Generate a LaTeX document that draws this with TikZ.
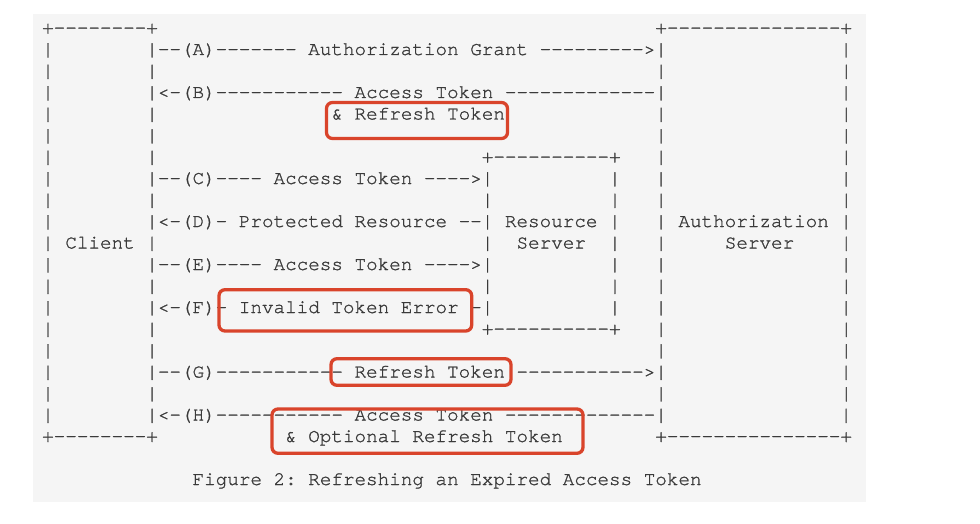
\documentclass[tikz,border=0pt]{standalone}
\usepackage{fontspec}
\setmonofont{texgyrecursor}[Extension=.otf, UprightFont=*-regular, BoldFont=*-bold, WordSpace={1,0,0}, UprightFeatures={FakeBold=1.2}]
\definecolor{bggray}{HTML}{F5F5F5}
\definecolor{txtgray}{HTML}{3A3A3A}
\definecolor{hlred}{RGB}{217,68,43}
\newlength\cw
\setlength\cw{11.57pt}
\newcommand\SP[1]{\kern#1\cw}
\tikzset{
  asc/.style={anchor=base west, inner sep=0pt, outer sep=0pt, text=txtgray,
    font=\ttfamily\fontsize{19.28}{21.5}\selectfont},
  hlbox/.style={draw=hlred, line width=3.3pt, rounded corners=6pt}
}
\begin{document}
\begin{tikzpicture}[x=1pt,y=-1pt]
\useasboundingbox (0,0) rectangle (980,524);
\fill[white] (0,0) rectangle (980,524);
\fill[bggray] (33,14.5) rectangle (866,502);
% rows: baseline y = 33.5 + 21.5 r ; col 2 left edge x = 42.2
\node[asc] (l0)  at (42.2,33.5)  {+--------+\SP{43}+---------------+};
\node[asc] (l1)  at (42.2,55)    {|\SP{8}|--(A)-------\SP{1}Authorization\SP{1}Grant\SP{1}--------->|\SP{15}|};
\node[asc] (l2)  at (42.2,76.5)  {|\SP{8}|\SP{43}|\SP{15}|};
\node[asc] (l3)  at (42.2,98)    {|\SP{8}|<-(B)-----------\SP{1}Access\SP{1}Token\SP{1}-------------|\SP{15}|};
\node[asc] (l4)  at (42.2,119.5) {|\SP{8}|\SP{15}\&\SP{1}Refresh\SP{1}Token\SP{13}|\SP{15}|};
\node[asc] (l5)  at (42.2,141)   {|\SP{8}|\SP{43}|\SP{15}|};
\node[asc] (l6)  at (42.2,162.5) {|\SP{8}|\SP{28}+----------+\SP{3}|\SP{15}|};
\node[asc] (l7)  at (42.2,184)   {|\SP{8}|--(C)----\SP{1}Access\SP{1}Token\SP{1}---->|\SP{10}|\SP{3}|\SP{15}|};
\node[asc] (l8)  at (42.2,205.5) {|\SP{8}|\SP{28}|\SP{10}|\SP{3}|\SP{15}|};
\node[asc] (l9)  at (42.2,227)   {|\SP{8}|<-(D)-\SP{1}Protected\SP{1}Resource\SP{1}--|\SP{1}Resource\SP{1}|\SP{3}|\SP{1}Authorization\SP{1}|};
\node[asc] (l10) at (42.2,248.5) {|\SP{1}Client\SP{1}|\SP{28}|\SP{2}Server\SP{2}|\SP{3}|\SP{5}Server\SP{4}|};
\node[asc] (l11) at (42.2,270)   {|\SP{8}|--(E)----\SP{1}Access\SP{1}Token\SP{1}---->|\SP{10}|\SP{3}|\SP{15}|};
\node[asc] (l12) at (42.2,291.5) {|\SP{8}|\SP{28}|\SP{10}|\SP{3}|\SP{15}|};
\node[asc] (l13) at (42.2,313)   {|\SP{8}|<-(F)-\SP{1}Invalid\SP{1}Token\SP{1}Error\SP{1}-|\SP{10}|\SP{3}|\SP{15}|};
\node[asc] (l14) at (42.2,334.5) {|\SP{8}|\SP{28}+----------+\SP{3}|\SP{15}|};
\node[asc] (l15) at (42.2,356)   {|\SP{8}|\SP{43}|\SP{15}|};
\node[asc] (l16) at (42.2,377.5) {|\SP{8}|--(G)-----------\SP{1}Refresh\SP{1}Token\SP{1}----------->|\SP{15}|};
\node[asc] (l17) at (42.2,399)   {|\SP{8}|\SP{43}|\SP{15}|};
\node[asc] (l18) at (42.2,420.5) {|\SP{8}|<-(H)-----------\SP{1}Access\SP{1}Token\SP{1}-------------|\SP{15}|};
\node[asc] (l19) at (42.2,442)   {+--------+\SP{11}\&\SP{1}Optional\SP{1}Refresh\SP{1}Token\SP{8}+---------------+};
\node[asc] (cap) at (192.6,485)  {Figure\SP{1}2:\SP{1}Refreshing\SP{1}an\SP{1}Expired\SP{1}Access\SP{1}Token};
% highlight boxes
\draw[hlbox] (326.5,102.5) rectangle (507.5,138.5);
\draw[hlbox] (219,289.7) rectangle (471.7,331);
\draw[hlbox] (331,358.7) rectangle (511,385.3);
\draw[hlbox] (272,409) rectangle (583,453.3);
\end{tikzpicture}
\end{document}
